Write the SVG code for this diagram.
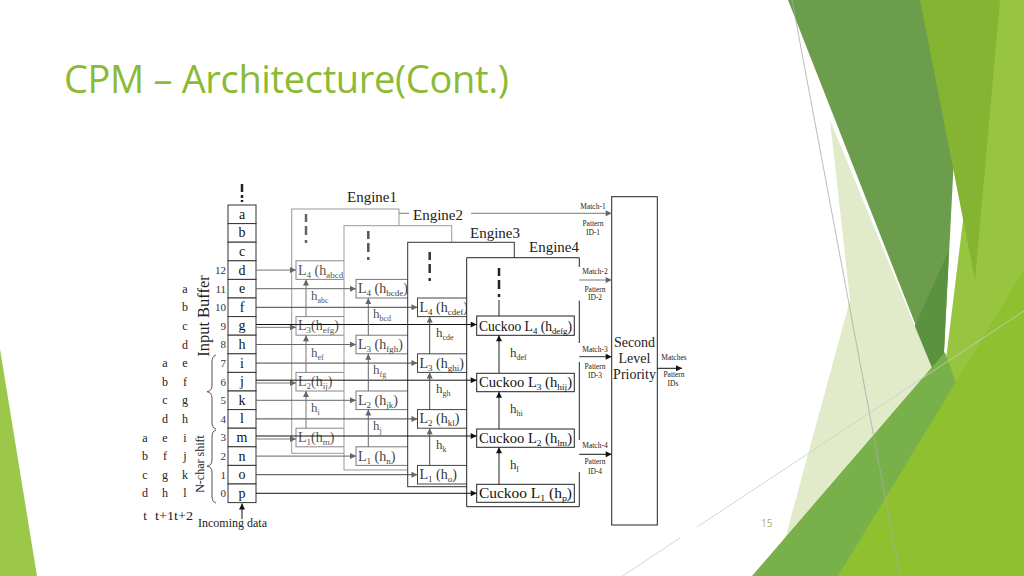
<svg xmlns="http://www.w3.org/2000/svg" width="1024" height="576" viewBox="0 0 1024 576">
<defs>
<style>
.t{font-family:"Liberation Serif","Times New Roman",serif;}
.buf{fill:#fff;stroke:#333;stroke-width:1;}
.bl{font-family:"Liberation Serif",serif;font-size:14px;fill:#111;text-anchor:middle;}
.num{font-family:"Liberation Serif",serif;font-size:11px;fill:#333;text-anchor:end;}
.col{font-family:"Liberation Serif",serif;font-size:12px;fill:#222;text-anchor:middle;}
.eng{font-family:"Liberation Serif",serif;font-size:15px;fill:#222;}
.lb{font-family:"Liberation Serif",serif;font-size:14px;}
.s{font-size:9px;}
.hl{font-family:"Liberation Serif",serif;font-size:13px;}
.hs{font-size:8px;}
.sm{font-family:"Liberation Serif",serif;font-size:7.5px;fill:#222;text-anchor:middle;}
.ebox{fill:#fff;}
.dash{stroke-width:2.5;fill:none;stroke-dasharray:8 4 9 5 3;}
</style>
<marker id="ag" viewBox="0 0 10 10" refX="10" refY="5" markerWidth="8" markerHeight="6" markerUnits="userSpaceOnUse" orient="auto"><path d="M0,0L10,5L0,10z" fill="#666"/></marker>
<marker id="ak" viewBox="0 0 10 10" refX="10" refY="5" markerWidth="8" markerHeight="6" markerUnits="userSpaceOnUse" orient="auto"><path d="M0,0L10,5L0,10z" fill="#111"/></marker>
</defs>
<rect width="1024" height="576" fill="#fff"/>
<g id="background">
<polygon points="0,349 37,576 0,576" fill="#9BC848"/>
<polygon points="990,0 1024,0 1024,576 830,576 942,392" fill="#97C53F"/>
<polygon points="788,0 962,0 942,392" fill="#6C9D4C"/>
<polygon points="949,250 913,330 942,392" fill="#5A9240"/>
<polygon points="920,0 1000,0 975,280" fill="#84B432"/>
<polygon points="830,120 942,392 800,576 775,576 850,300" fill="#E1EBC9"/>
<polygon points="752,576 1024,576 945,352" fill="#78B04A"/>
<polygon points="838,576 1024,576 1024,270" fill="#8FC030"/>
<line x1="792" y1="0" x2="900" y2="576" stroke="#aaa" stroke-width="0.8"/>
<line x1="612" y1="583" x2="680" y2="538" stroke="#ccc" stroke-width="0.8"/>
<line x1="697" y1="527" x2="1024" y2="311" stroke="#ccc" stroke-width="0.8"/>
</g>
<text x="64" y="93" font-family="Open Sans, DejaVu Sans, sans-serif" font-size="38" fill="#8BBA35" textLength="445" lengthAdjust="spacing">CPM – Architecture(Cont.)</text>
<text x="761" y="527" font-family="Open Sans, sans-serif" font-size="10" fill="#A8B84A">15</text>

<g id="input-buffer">
<line x1="242" y1="184" x2="242" y2="202" stroke="#222" stroke-width="2.5" stroke-dasharray="8 3 3 2 2"/>
<rect class="buf" x="228" y="205" width="28" height="18.6"/><text class="bl" x="242" y="218.8">a</text>
<rect class="buf" x="228" y="223.6" width="28" height="18.6"/><text class="bl" x="242" y="237.4">b</text>
<rect class="buf" x="228" y="242.2" width="28" height="18.6"/><text class="bl" x="242" y="256">c</text>
<rect class="buf" x="228" y="260.8" width="28" height="18.6"/><text class="bl" x="242" y="274.6">d</text>
<rect class="buf" x="228" y="279.4" width="28" height="18.6"/><text class="bl" x="242" y="293.2">e</text>
<rect class="buf" x="228" y="298" width="28" height="18.6"/><text class="bl" x="242" y="311.8">f</text>
<rect class="buf" x="228" y="316.6" width="28" height="18.6"/><text class="bl" x="242" y="330.4">g</text>
<rect class="buf" x="228" y="335.2" width="28" height="18.6"/><text class="bl" x="242" y="349">h</text>
<rect class="buf" x="228" y="353.8" width="28" height="18.6"/><text class="bl" x="242" y="367.6">i</text>
<rect class="buf" x="228" y="372.4" width="28" height="18.6"/><text class="bl" x="242" y="386.2">j</text>
<rect class="buf" x="228" y="391" width="28" height="18.6"/><text class="bl" x="242" y="404.8">k</text>
<rect class="buf" x="228" y="409.6" width="28" height="18.6"/><text class="bl" x="242" y="423.4">l</text>
<rect class="buf" x="228" y="428.2" width="28" height="18.6"/><text class="bl" x="242" y="442">m</text>
<rect class="buf" x="228" y="446.8" width="28" height="18.6"/><text class="bl" x="242" y="460.6">n</text>
<rect class="buf" x="228" y="465.4" width="28" height="18.6"/><text class="bl" x="242" y="479.2">o</text>
<rect class="buf" x="228" y="484" width="28" height="18.6"/><text class="bl" x="242" y="497.8">p</text>
<text class="num" x="226" y="274">12</text>
<text class="num" x="226" y="292.6">11</text>
<text class="num" x="226" y="311.2">10</text>
<text class="num" x="226" y="329.8">9</text>
<text class="num" x="226" y="348.4">8</text>
<text class="num" x="226" y="367">7</text>
<text class="num" x="226" y="385.6">6</text>
<text class="num" x="226" y="404.2">5</text>
<text class="num" x="226" y="422.8">4</text>
<text class="num" x="226" y="441.4">3</text>
<text class="num" x="226" y="460">2</text>
<text class="num" x="226" y="478.6">1</text>
<text class="num" x="226" y="497.2">0</text>
<text class="t" font-size="16.5" fill="#222" text-anchor="middle" transform="translate(209,316) rotate(-90)">Input Buffer</text>
<text class="t" font-size="12" fill="#222" text-anchor="middle" transform="translate(204,464) rotate(-90)">N-char shift</text>
<path d="M216,355 Q212,356 212,362 L212,386 Q212,391 207,391.7 Q212,392.5 212,398 L212,422 Q212,428 216,429" fill="none" stroke="#555" stroke-width="1"/>
<path d="M216,430 Q212,431 212,437 L212,460 Q212,465.5 207,466.2 Q212,467 212,472 L212,496 Q212,502 216,503" fill="none" stroke="#555" stroke-width="1"/>
<text class="col" x="185" y="292.7">a</text><text class="col" x="185" y="311.3">b</text><text class="col" x="185" y="329.9">c</text><text class="col" x="185" y="348.5">d</text>
<text class="col" x="185" y="367.1">e</text><text class="col" x="185" y="385.7">f</text><text class="col" x="185" y="404.3">g</text><text class="col" x="185" y="422.9">h</text>
<text class="col" x="185" y="441.5">i</text><text class="col" x="185" y="460.1">j</text><text class="col" x="185" y="478.7">k</text><text class="col" x="185" y="497.3">l</text>
<text class="col" x="165" y="367.1">a</text><text class="col" x="165" y="385.7">b</text><text class="col" x="165" y="404.3">c</text><text class="col" x="165" y="422.9">d</text>
<text class="col" x="165" y="441.5">e</text><text class="col" x="165" y="460.1">f</text><text class="col" x="165" y="478.7">g</text><text class="col" x="165" y="497.3">h</text>
<text class="col" x="145" y="441.5">a</text><text class="col" x="145" y="460.1">b</text><text class="col" x="145" y="478.7">c</text><text class="col" x="145" y="497.3">d</text>
<text class="t" x="145" y="520" font-size="13" fill="#222" text-anchor="middle">t</text>
<text class="t" x="155" y="520" font-size="13" fill="#222" textLength="38" lengthAdjust="spacingAndGlyphs">t+1t+2</text>
<text class="t" x="198" y="527" font-size="12" fill="#222">Incoming data</text>
</g>

<g id="engine1">
<rect class="ebox" x="291.7" y="209" width="107.3" height="244.3" stroke="#999" stroke-width="1"/>
<text class="eng" x="347" y="202">Engine1</text>
<line class="dash" x1="306" y1="214" x2="306" y2="246" stroke="#666"/>
<rect x="296" y="260.8" width="56" height="18.6" fill="#fff" stroke="#888"/>
<text class="lb" x="298" y="274.6" fill="#555">L<tspan class="s" dy="3">4</tspan><tspan dy="-3"> (h</tspan><tspan class="s" dy="3">abcd</tspan><tspan dy="-3">)</tspan></text>
<rect x="296" y="316.6" width="56" height="18.6" fill="#fff" stroke="#888"/>
<text class="lb" x="298" y="330.4" fill="#555">L<tspan class="s" dy="3">3</tspan><tspan dy="-3">(h</tspan><tspan class="s" dy="3">efg</tspan><tspan dy="-3">)</tspan></text>
<rect x="296" y="372.4" width="56" height="18.6" fill="#fff" stroke="#888"/>
<text class="lb" x="298" y="386.2" fill="#555">L<tspan class="s" dy="3">2</tspan><tspan dy="-3">(h</tspan><tspan class="s" dy="3">ij</tspan><tspan dy="-3">)</tspan></text>
<rect x="296" y="428.2" width="56" height="18.6" fill="#fff" stroke="#888"/>
<text class="lb" x="298" y="442" fill="#555">L<tspan class="s" dy="3">1</tspan><tspan dy="-3">(h</tspan><tspan class="s" dy="3">m</tspan><tspan dy="-3">)</tspan></text>
<text class="hl" x="311" y="300" fill="#555">h<tspan class="hs" dy="3">abc</tspan></text>
<text class="hl" x="311" y="357" fill="#555">h<tspan class="hs" dy="3">ef</tspan></text>
<text class="hl" x="311" y="412" fill="#555">h<tspan class="hs" dy="3">i</tspan></text>
</g>

<g id="engine2">
<rect class="ebox" x="344" y="225.7" width="107.7" height="244.3" stroke="#999" stroke-width="1"/>
<line class="dash" x1="368.3" y1="231" x2="368.3" y2="262" stroke="#555"/>
<rect x="356" y="279.4" width="58" height="18.6" fill="#fff" stroke="#777"/>
<text class="lb" x="358" y="293.2" fill="#444">L<tspan class="s" dy="3">4</tspan><tspan dy="-3"> (h</tspan><tspan class="s" dy="3">bcde</tspan><tspan dy="-3">)</tspan></text>
<rect x="356" y="335.2" width="58" height="18.6" fill="#fff" stroke="#777"/>
<text class="lb" x="358" y="349" fill="#444">L<tspan class="s" dy="3">3</tspan><tspan dy="-3"> (h</tspan><tspan class="s" dy="3">fgh</tspan><tspan dy="-3">)</tspan></text>
<rect x="356" y="391" width="58" height="18.6" fill="#fff" stroke="#777"/>
<text class="lb" x="358" y="404.8" fill="#444">L<tspan class="s" dy="3">2</tspan><tspan dy="-3"> (h</tspan><tspan class="s" dy="3">jk</tspan><tspan dy="-3">)</tspan></text>
<rect x="356" y="446.8" width="58" height="18.6" fill="#fff" stroke="#777"/>
<text class="lb" x="358" y="460.6" fill="#444">L<tspan class="s" dy="3">1</tspan><tspan dy="-3"> (h</tspan><tspan class="s" dy="3">n</tspan><tspan dy="-3">)</tspan></text>
<text class="hl" x="373" y="318" fill="#555">h<tspan class="hs" dy="3">bcd</tspan></text>
<text class="hl" x="373" y="374" fill="#555">h<tspan class="hs" dy="3">fg</tspan></text>
<text class="hl" x="373" y="430" fill="#555">h<tspan class="hs" dy="3">j</tspan></text>
</g>

<g id="engine3">
<rect class="ebox" x="407.7" y="242.3" width="106.6" height="244.4" stroke="#333" stroke-width="1"/>
<text class="eng" x="470" y="237.5">Engine3</text>
<line class="dash" x1="429.7" y1="252" x2="429.7" y2="283" stroke="#333"/>
<rect x="417.5" y="298" width="56" height="18.6" fill="#fff" stroke="#444"/>
<text class="lb" x="419.5" y="311.8" fill="#333">L<tspan class="s" dy="3">4</tspan><tspan dy="-3"> (h</tspan><tspan class="s" dy="3">cdef</tspan><tspan dy="-3">)</tspan></text>
<rect x="417.5" y="353.8" width="56" height="18.6" fill="#fff" stroke="#444"/>
<text class="lb" x="419.5" y="367.6" fill="#333">L<tspan class="s" dy="3">3</tspan><tspan dy="-3"> (h</tspan><tspan class="s" dy="3">ghi</tspan><tspan dy="-3">)</tspan></text>
<rect x="417.5" y="409.6" width="56" height="18.6" fill="#fff" stroke="#444"/>
<text class="lb" x="419.5" y="423.4" fill="#333">L<tspan class="s" dy="3">2</tspan><tspan dy="-3"> (h</tspan><tspan class="s" dy="3">kl</tspan><tspan dy="-3">)</tspan></text>
<rect x="417.5" y="465.4" width="56" height="18.6" fill="#fff" stroke="#444"/>
<text class="lb" x="419.5" y="479.2" fill="#333">L<tspan class="s" dy="3">1</tspan><tspan dy="-3"> (h</tspan><tspan class="s" dy="3">o</tspan><tspan dy="-3">)</tspan></text>
<text class="hl" x="436" y="337" fill="#444">h<tspan class="hs" dy="3">cde</tspan></text>
<text class="hl" x="436" y="393" fill="#444">h<tspan class="hs" dy="3">gh</tspan></text>
<text class="hl" x="436" y="449" fill="#444">h<tspan class="hs" dy="3">k</tspan></text>
</g>

<g id="engine4">
<path d="M579.3,257.7 L466.7,257.7 L466.7,506.7 L579.3,506.7 L579.3,472 M579.3,440 L579.3,362 M579.3,343 L579.3,300.7 M579.3,267 L579.3,257.7" fill="#fff" stroke="#222" stroke-width="1"/>
<text class="eng" x="529" y="252">Engine4</text>
<line class="dash" x1="499" y1="268" x2="499" y2="298" stroke="#222"/>
<rect x="476.7" y="316" width="97.6" height="19.3" fill="#fff" stroke="#222"/>
<text class="lb" x="479" y="330.5" fill="#111" textLength="93" lengthAdjust="spacingAndGlyphs">Cuckoo L<tspan class="s" dy="3">4</tspan><tspan dy="-3"> (h</tspan><tspan class="s" dy="3">defg</tspan><tspan dy="-3">)</tspan></text>
<rect x="476.7" y="373.3" width="97.6" height="18.4" fill="#fff" stroke="#222"/>
<text class="lb" x="479" y="387" fill="#111" textLength="93" lengthAdjust="spacingAndGlyphs">Cuckoo L<tspan class="s" dy="3">3</tspan><tspan dy="-3"> (h</tspan><tspan class="s" dy="3">hij</tspan><tspan dy="-3">)</tspan></text>
<rect x="476.7" y="429" width="97.6" height="18.3" fill="#fff" stroke="#222"/>
<text class="lb" x="479" y="442.6" fill="#111" textLength="93" lengthAdjust="spacingAndGlyphs">Cuckoo L<tspan class="s" dy="3">2</tspan><tspan dy="-3"> (h</tspan><tspan class="s" dy="3">lm</tspan><tspan dy="-3">)</tspan></text>
<rect x="476.7" y="484.3" width="97.6" height="18" fill="#fff" stroke="#222"/>
<text class="lb" x="479" y="497.8" fill="#111" textLength="93" lengthAdjust="spacingAndGlyphs">Cuckoo L<tspan class="s" dy="3">1</tspan><tspan dy="-3"> (h</tspan><tspan class="s" dy="3">p</tspan><tspan dy="-3">)</tspan></text>
<text class="hl" x="510" y="357" fill="#333">h<tspan class="hs" dy="3">def</tspan></text>
<text class="hl" x="510" y="413" fill="#333">h<tspan class="hs" dy="3">hi</tspan></text>
<text class="hl" x="510" y="469" fill="#333">h<tspan class="hs" dy="3">l</tspan></text>
</g>

<g id="second-level-priority">
<rect x="611.7" y="196.7" width="45.6" height="328.3" fill="#fff" stroke="#222" stroke-width="1"/>
<text class="t" x="634.5" y="347" font-size="14" fill="#222" text-anchor="middle">Second</text>
<text class="t" x="634.5" y="363" font-size="14" fill="#222" text-anchor="middle">Level</text>
<text class="t" x="634.5" y="379" font-size="14" fill="#222" text-anchor="middle">Priority</text>
</g>

<g id="labels">
<text class="eng" x="413" y="220">Engine2</text>
<text class="sm" x="593" y="209">Match-1</text><text class="sm" x="593" y="225.5">Pattern</text><text class="sm" x="593" y="235">ID-1</text>
<text class="sm" x="595" y="273.5">Match-2</text><text class="sm" x="595" y="291.5">Pattern</text><text class="sm" x="595" y="300">ID-2</text>
<text class="sm" x="595" y="351.5">Match-3</text><text class="sm" x="595" y="369">Pattern</text><text class="sm" x="595" y="377.5">ID-3</text>
<text class="sm" x="595" y="447.5">Match-4</text><text class="sm" x="595" y="464">Pattern</text><text class="sm" x="595" y="473.5">ID-4</text>
<text class="sm" x="674" y="360">Matches</text><text class="sm" x="674" y="377">Pattern</text><text class="sm" x="673" y="386">IDs</text>
</g>

<g id="connectors" fill="none" stroke-width="1">
<line x1="242" y1="519" x2="242" y2="503.5" stroke="#111" marker-end="url(#ak)"/>
<line x1="256" y1="270.1" x2="296" y2="270.1" stroke="#777" marker-end="url(#ag)"/>
<line x1="256" y1="288.7" x2="356" y2="288.7" stroke="#666" marker-end="url(#ag)"/>
<line x1="256" y1="307.3" x2="417.5" y2="307.3" stroke="#444" marker-end="url(#ag)"/>
<line x1="256" y1="327.3" x2="296" y2="327.3" stroke="#777" marker-end="url(#ag)"/>
<line x1="256" y1="324.5" x2="476.7" y2="324.5" stroke="#111" marker-end="url(#ak)"/>
<line x1="256" y1="344.5" x2="356" y2="344.5" stroke="#666" marker-end="url(#ag)"/>
<line x1="256" y1="363.1" x2="417.5" y2="363.1" stroke="#444" marker-end="url(#ag)"/>
<line x1="256" y1="383" x2="296" y2="383" stroke="#777" marker-end="url(#ag)"/>
<line x1="256" y1="380.2" x2="476.7" y2="380.2" stroke="#111" marker-end="url(#ak)"/>
<line x1="256" y1="400.3" x2="356" y2="400.3" stroke="#666" marker-end="url(#ag)"/>
<line x1="256" y1="418.9" x2="417.5" y2="418.9" stroke="#444" marker-end="url(#ag)"/>
<line x1="256" y1="439" x2="296" y2="439" stroke="#777" marker-end="url(#ag)"/>
<line x1="256" y1="436" x2="476.7" y2="436" stroke="#111" marker-end="url(#ak)"/>
<line x1="256" y1="456.1" x2="356" y2="456.1" stroke="#666" marker-end="url(#ag)"/>
<line x1="256" y1="474.7" x2="417.5" y2="474.7" stroke="#444" marker-end="url(#ag)"/>
<line x1="256" y1="493.3" x2="476.7" y2="493.3" stroke="#111" marker-end="url(#ak)"/>
<line x1="306" y1="316.6" x2="306" y2="279.4" stroke="#777" marker-end="url(#ag)"/>
<line x1="306" y1="372.4" x2="306" y2="335.2" stroke="#777" marker-end="url(#ag)"/>
<line x1="306" y1="428.2" x2="306" y2="391" stroke="#777" marker-end="url(#ag)"/>
<line x1="368.3" y1="335.2" x2="368.3" y2="298" stroke="#666" marker-end="url(#ag)"/>
<line x1="368.3" y1="391" x2="368.3" y2="353.8" stroke="#666" marker-end="url(#ag)"/>
<line x1="368.3" y1="446.8" x2="368.3" y2="409.6" stroke="#666" marker-end="url(#ag)"/>
<line x1="429.7" y1="353.8" x2="429.7" y2="316.6" stroke="#444" marker-end="url(#ag)"/>
<line x1="429.7" y1="409.6" x2="429.7" y2="372.4" stroke="#444" marker-end="url(#ag)"/>
<line x1="429.7" y1="465.4" x2="429.7" y2="428.2" stroke="#444" marker-end="url(#ag)"/>
<line x1="499" y1="373.3" x2="499" y2="335.3" stroke="#222" marker-end="url(#ak)"/>
<line x1="499" y1="429" x2="499" y2="391.7" stroke="#222" marker-end="url(#ak)"/>
<line x1="499" y1="484.3" x2="499" y2="447.3" stroke="#222" marker-end="url(#ak)"/>
<line x1="499" y1="316" x2="499" y2="300" stroke="#222"/>
<line x1="399" y1="213.3" x2="409" y2="213.3" stroke="#777"/>
<line x1="471" y1="213.3" x2="611.7" y2="213.3" stroke="#777" marker-end="url(#ag)"/>
<line x1="579.3" y1="280" x2="611.7" y2="280" stroke="#777" marker-end="url(#ag)"/>
<line x1="579.3" y1="356.7" x2="611.7" y2="356.7" stroke="#333" marker-end="url(#ak)"/>
<line x1="579.3" y1="454.3" x2="611.7" y2="454.3" stroke="#111" marker-end="url(#ak)"/>
<line x1="657.3" y1="368.3" x2="682" y2="368.3" stroke="#111" marker-end="url(#ak)"/>
</g>
</svg>
